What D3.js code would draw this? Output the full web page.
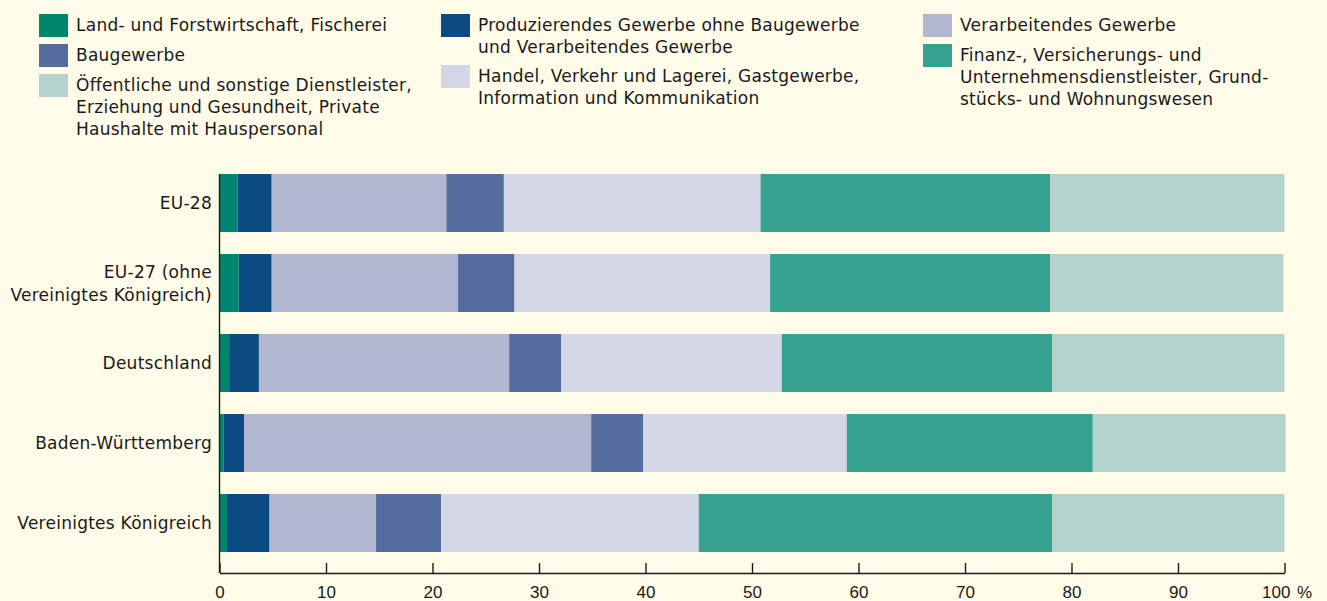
<!DOCTYPE html>
<html>
<head>
<meta charset="utf-8">
<script src="https://cdn.jsdelivr.net/npm/d3@7"></script>
<style>
  html, body { margin: 0; padding: 0; background: #fffbe9; }
  svg { display: block; }
  text { font-family: "DejaVu Sans", sans-serif; fill: #1a1a1a; }
</style>
</head>
<body>
<svg id="chart" width="1327" height="601"></svg>
<script>
// ---- Data ----
const categories = ["EU-28", "EU-27 (ohne Vereinigtes Königreich)", "Deutschland", "Baden-Württemberg", "Vereinigtes Königreich"];
const categoryLines = [["EU-28"], ["EU-27 (ohne", "Vereinigtes Königreich)"], ["Deutschland"], ["Baden-Württemberg"], ["Vereinigtes Königreich"]];

const seriesKeys = ["land", "prod", "verarb", "bau", "handel", "finanz", "oeff"];
const seriesLabels = [
  ["Land- und Forstwirtschaft, Fischerei"],
  ["Produzierendes Gewerbe ohne Baugewerbe", "und Verarbeitendes Gewerbe"],
  ["Verarbeitendes Gewerbe"],
  ["Baugewerbe"],
  ["Handel, Verkehr und Lagerei, Gastgewerbe,", "Information und Kommunikation"],
  ["Finanz-, Versicherungs- und", "Unternehmensdienstleister, Grund-", "stücks- und Wohnungswesen"],
  ["Öffentliche und sonstige Dienstleister,", "Erziehung und Gesundheit, Private", "Haushalte mit Hauspersonal"]
];
const land   = [1.7, 1.8, 0.9, 0.4, 0.7];
const prod   = [3.2, 3.1, 2.8, 1.9, 4.0];
const verarb = [16.4, 17.5, 23.5, 32.6, 10.0];
const bau    = [5.4, 5.3, 4.9, 4.9, 6.1];
const handel = [24.1, 24.0, 20.7, 19.1, 24.2];
const finanz = [27.2, 26.3, 25.4, 23.1, 33.2];
const oeff   = [22.0, 21.9, 21.8, 18.1, 21.8];
const xTicks = [0, 10, 20, 30, 40, 50, 60, 70, 80, 90, 100];

// ---- Styles ----
const colors = ["#00866f", "#0c4a82", "#b1b6d1", "#546c9e", "#d3d6e5", "#35a190", "#b3d3cc"];

const seriesVals = [land, prod, verarb, bau, handel, finanz, oeff];
const table = categories.map((c, i) => {
  const row = { cat: c };
  seriesKeys.forEach((k, j) => row[k] = seriesVals[j][i]);
  return row;
});

const svg = d3.select("#chart");
const axisY = 573;
const x = d3.scaleLinear().domain([0, 100]).range([219.5, 1284.5]);
const y = d3.scaleBand().domain(categories).range([163, 563]).paddingInner(0.275).paddingOuter(0.1375);
const color = d3.scaleOrdinal().domain(seriesKeys).range(colors);

const stacked = d3.stack().keys(seriesKeys)(table);

svg.append("g").selectAll("g").data(stacked).join("g")
  .attr("fill", d => color(d.key))
  .selectAll("rect").data(d => d).join("rect")
  .attr("x", d => x(d[0]))
  .attr("width", d => x(d[1]) - x(d[0]))
  .attr("y", d => y(d.data.cat))
  .attr("height", y.bandwidth());

// Y axis line
svg.append("line")
  .attr("x1", x(0)).attr("x2", x(0))
  .attr("y1", y(categories[0])).attr("y2", axisY)
  .attr("stroke", "#1a1a1a").attr("stroke-width", 1.4);

// Category labels
const fs = 17;
const ls = "0.25px";
categories.forEach((c, i) => {
  const lines = categoryLines[i];
  const cy = y(c) + y.bandwidth() / 2;
  const lh = 23;
  const t = svg.append("text").attr("text-anchor", "end")
    .style("font-size", fs + "px").style("letter-spacing", ls);
  lines.forEach((l, k) => {
    t.append("tspan").attr("x", 212)
      .attr("y", cy + (k - (lines.length - 1) / 2) * lh + 6)
      .text(l);
  });
});

// X axis
const xAxis = d3.axisBottom(x).tickValues(xTicks).tickSize(0).tickFormat(d => d === 100 ? "100 %" : d);
const gx = svg.append("g").attr("transform", `translate(0,${axisY})`).call(xAxis);
gx.select(".domain").attr("stroke", "#1a1a1a").attr("stroke-width", 1.4);
gx.selectAll(".tick line").remove();
gx.selectAll(".tick").append("line")
  .attr("y1", 0).attr("y2", -10)
  .attr("stroke", "#1a1a1a").attr("stroke-width", 1.4);
gx.selectAll(".tick text")
  .attr("y", 13).attr("dy", "0.71em")
  .style("font-size", "17px").style("font-family", "Liberation Sans, Arial, sans-serif")
  .attr("fill", "#1a1a1a");
gx.selectAll(".tick").filter(d => d === 100).select("text")
  .attr("text-anchor", "start").attr("x", -23).style("word-spacing", "2px");

// Legend
const legendPos = {
  land: [39, 14], bau: [39, 44], oeff: [39, 74],
  prod: [441, 14], handel: [441, 65],
  verarb: [923, 14], finanz: [923, 44]
};
seriesKeys.forEach((k, j) => {
  const [lx, ly] = legendPos[k];
  svg.append("rect").attr("x", lx).attr("y", ly).attr("width", 29).attr("height", 23).attr("fill", color(k));
  const t = svg.append("text").style("font-size", fs + "px").style("letter-spacing", ls);
  seriesLabels[j].forEach((l, m) => {
    t.append("tspan").attr("x", lx + 37).attr("y", ly + 17 + m * 22).text(l);
  });
});
</script>
</body>
</html>
